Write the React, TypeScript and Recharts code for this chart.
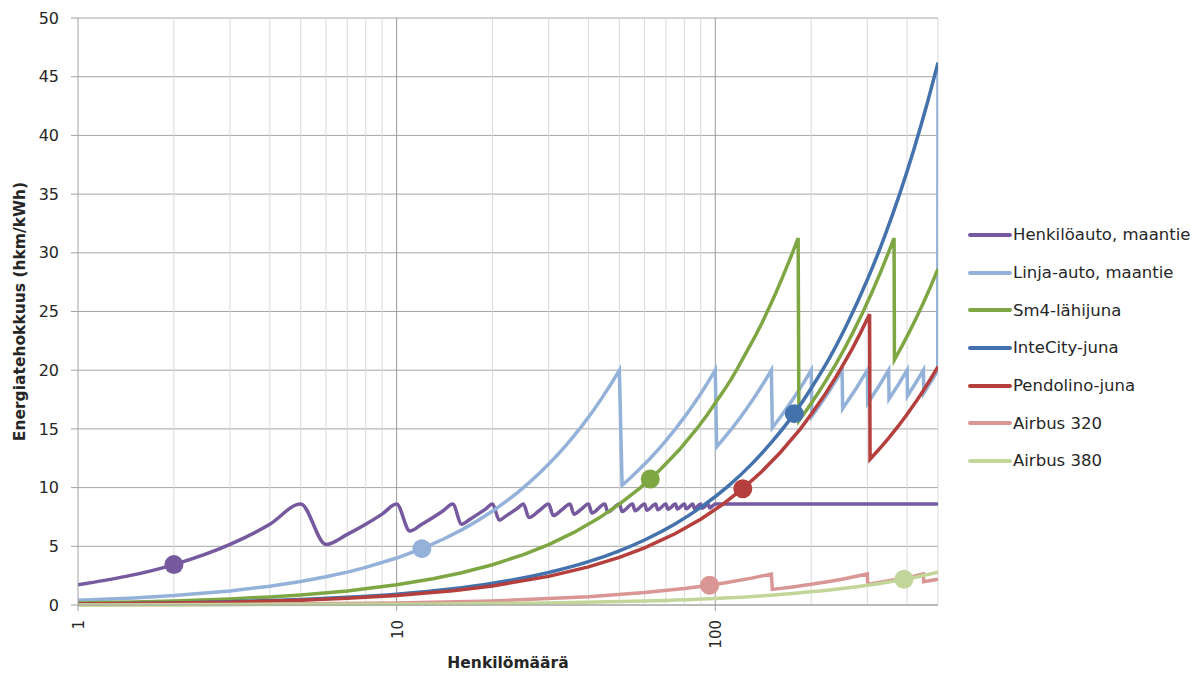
import React from "react";
import {
  ComposedChart,
  Line,
  Scatter,
  XAxis,
  YAxis,
  CartesianGrid,
  ReferenceLine,
  Legend,
  Label,
} from "recharts";

// ---------- tick labels / grid values ----------
const xTicks = [1, 10, 100];
const yTicks = [0, 5, 10, 15, 20, 25, 30, 35, 40, 45, 50];
const minorGridX = [2, 3, 4, 5, 6, 7, 8, 9, 20, 30, 40, 50, 60, 70, 80, 90, 200, 300, 400, 500];
const majorGridX = [10, 100];

// ---------- series values: [henkilömäärä, hkm/kWh] ----------
const henkiloauto = [
  [1, 1.72], [2, 3.44], [3, 5.16], [4, 6.88], [5, 8.6], [6, 5.16], [7, 6.02], [8, 6.88], [9, 7.74], [10, 8.6],
  [11, 6.31], [12, 6.88], [13, 7.45], [14, 8.03], [15, 8.6], [16, 6.88], [17, 7.31], [18, 7.74], [19, 8.17], [20, 8.6],
  [21, 7.22], [22, 7.57], [23, 7.91], [24, 8.26], [25, 8.6], [26, 7.45], [28, 8.03], [30, 8.6], [31, 7.62], [33, 8.11],
  [35, 8.6], [36, 7.74], [38, 8.17], [40, 8.6], [41, 7.84], [45, 8.6], [46, 7.91], [50, 8.6], [51, 7.97], [55, 8.6],
  [56, 8.03], [60, 8.6], [61, 8.07], [65, 8.6], [66, 8.11], [70, 8.6], [71, 8.14], [75, 8.6], [76, 8.17], [80, 8.6],
  [81, 8.19], [85, 8.6], [86, 8.22], [90, 8.6], [91, 8.24], [95, 8.6], [96, 8.26], [100, 8.6], [200, 8.6], [500, 8.6],
];
const linjaAuto = [
  [1, 0.4], [1.5, 0.6], [2, 0.8], [3, 1.2], [4, 1.6], [5, 2.0], [6, 2.4], [7, 2.8], [8, 3.2], [10, 4.0], [12, 4.8],
  [14, 5.6], [16, 6.4], [18, 7.2], [20, 8.0], [22, 8.8], [24, 9.6], [26, 10.4], [28, 11.2], [30, 12.0], [32, 12.8],
  [34, 13.6], [36, 14.4], [38, 15.2], [40, 16.0], [42, 16.8], [44, 17.6], [47, 18.8], [50, 20.0],
  [51, 10.2], [54, 10.8], [58, 11.6], [62, 12.4], [66, 13.2], [70, 14.0], [75, 15.0], [80, 16.0], [85, 17.0],
  [90, 18.0], [95, 19.0], [100, 20.0],
  [101, 13.47], [107, 14.27], [113, 15.07], [119, 15.87], [125, 16.67], [131, 17.47], [137, 18.27], [143, 19.07], [150, 20.0],
  [151, 15.1], [158, 15.8], [166, 16.6], [175, 17.5], [183, 18.3], [191, 19.1], [200, 20.0],
  [201, 16.08], [213, 17.04], [225, 18.0], [237, 18.96], [250, 20.0],
  [251, 16.73], [275, 18.33], [300, 20.0],
  [301, 17.2], [325, 18.57], [350, 20.0],
  [351, 17.55], [375, 18.75], [400, 20.0],
  [401, 17.82], [425, 18.89], [450, 20.0],
  [451, 18.04], [475, 19.0], [499, 19.96], [500, 46.0],
];
const sm4 = [
  [1, 0.17], [1.5, 0.26], [2, 0.34], [3, 0.52], [4, 0.69], [5, 0.86], [7, 1.2], [10, 1.72], [13, 2.23], [16, 2.75],
  [20, 3.43], [25, 4.29], [30, 5.15], [36, 6.18], [43, 7.38], [50, 8.59], [58, 9.96], [67, 11.5], [77, 13.2], [88, 15.1],
  [94, 16.14], [100, 17.2], [106, 18.2], [112, 19.2], [118, 20.26], [125, 21.5], [132, 22.66], [140, 24.0], [147, 25.24],
  [155, 26.6], [162, 27.82], [170, 29.2], [176, 30.22], [182, 31.25],
  [183, 15.71], [195, 16.74], [210, 18.03], [225, 19.32], [240, 20.6], [255, 21.89], [270, 23.18], [290, 24.9],
  [310, 26.61], [330, 28.33], [348, 29.88], [364, 31.25],
  [365, 20.89], [385, 22.03], [405, 23.18], [425, 24.32], [450, 25.75], [475, 27.18], [500, 28.62],
];
const interCity = [
  [1, 0.09], [2, 0.18], [3, 0.28], [5, 0.46], [7, 0.65], [10, 0.92], [15, 1.38], [20, 1.85], [30, 2.77], [40, 3.69],
  [50, 4.62], [60, 5.54], [75, 6.92], [90, 8.31], [110, 10.15], [130, 12.0], [150, 13.85], [177, 16.3], [200, 18.46],
  [230, 21.2], [260, 24.0], [300, 27.7], [340, 31.4], [380, 35.1], [420, 38.8], [460, 42.5], [500, 46.2],
];
const pendolino = [
  [1, 0.08], [2, 0.16], [3, 0.24], [5, 0.41], [7, 0.57], [10, 0.81], [15, 1.22], [20, 1.62], [30, 2.44], [40, 3.25],
  [50, 4.06], [60, 4.87], [75, 6.09], [90, 7.31], [105, 8.53], [122, 9.91], [140, 11.37], [160, 12.99], [185, 15.0],
  [200, 16.24], [220, 17.86], [240, 19.5], [255, 20.71], [270, 21.9], [285, 23.14], [305, 24.77],
  [306, 12.42], [325, 13.2], [350, 14.21], [375, 15.23], [400, 16.24], [425, 17.26], [450, 18.27], [475, 19.29], [500, 20.3],
];
const airbus320 = [
  [1, 0.02], [3, 0.05], [10, 0.18], [20, 0.35], [40, 0.7], [60, 1.06], [80, 1.41], [96, 1.69], [110, 1.94], [130, 2.29], [150, 2.64],
  [151, 1.33], [175, 1.54], [200, 1.76], [225, 1.98], [250, 2.2], [275, 2.42], [300, 2.64],
  [301, 1.77], [340, 2.0], [380, 2.23], [420, 2.46], [450, 2.64],
  [451, 1.98], [475, 2.09], [500, 2.2],
];
const airbus380 = [
  [1, 0.01], [10, 0.06], [30, 0.17], [60, 0.34], [100, 0.56], [150, 0.84], [200, 1.12], [250, 1.4], [300, 1.68],
  [350, 1.96], [391, 2.19], [450, 2.52], [500, 2.8],
];

// highlighted points (one per series)
const highlightX = [2, 12, 62.5, 177, 122, 96, 391];
const highlightY = [3.44, 4.8, 10.73, 16.3, 9.9, 1.69, 2.19];

const seriesNames = [
  "Henkilöauto, maantie",
  "Linja-auto, maantie",
  "Sm4-lähijuna",
  "InteCity-juna",
  "Pendolino-juna",
  "Airbus 320",
  "Airbus 380",
];
const seriesColors = ["#76599E", "#94B2D9", "#7EA744", "#4472AC", "#B43F3C", "#D99694", "#C2D699"];
const seriesValues = [henkiloauto, linjaAuto, sm4, interCity, pendolino, airbus320, airbus380];
const seriesCurve = ["monotone", "linear", "linear", "monotone", "linear", "linear", "monotone"];

const toRows = (arr) => arr.map(([x, y]) => ({ x, y }));

const FONT = "'DejaVu Sans', sans-serif";
const TEXT = "#262626";
const AXIS = "#a0a0a0";

const XTick = (props) => {
  const { x, y, payload } = props;
  const bx = x + 6;
  const by = y + 7;
  return (
    <text
      x={bx}
      y={by}
      transform={`rotate(-90, ${bx}, ${by})`}
      textAnchor="end"
      fontFamily={FONT}
      fontSize={15}
      fill={TEXT}
    >
      {payload.value}
    </text>
  );
};

const YTitle = (props) => {
  const vb = props.viewBox;
  const cx = vb.x + 20;
  const cy = vb.y + vb.height / 2;
  return (
    <text
      x={cx}
      y={cy}
      transform={`rotate(-90, ${cx}, ${cy})`}
      textAnchor="middle"
      dominantBaseline="central"
      fontFamily={FONT}
      fontWeight="bold"
      fontSize={15.5}
      fill={TEXT}
    >
      Energiatehokkuus (hkm/kWh)
    </text>
  );
};

const XTitle = (props) => {
  const vb = props.viewBox;
  return (
    <text
      x={vb.x + vb.width / 2}
      y={vb.y + 58}
      textAnchor="middle"
      dominantBaseline="central"
      fontFamily={FONT}
      fontWeight="bold"
      fontSize={15.5}
      fill={TEXT}
    >
      Henkilömäärä
    </text>
  );
};

const renderLegend = () => (
  <div style={{ fontFamily: FONT, fontSize: 16.5, color: TEXT }}>
    {seriesNames.map((name, i) => (
      <div key={name} style={{ display: "flex", alignItems: "center", height: 37.7 }}>
        <div style={{ width: 44, height: 4, background: seriesColors[i], borderRadius: 2 }} />
        <span style={{ marginLeft: 1, whiteSpace: "nowrap" }}>{name}</span>
      </div>
    ))}
  </div>
);

export default function App() {
  return (
    <div style={{ position: "absolute", left: 0, top: 0, background: "#fff" }}>
      <ComposedChart width={1202} height={673} margin={{ top: 18, right: 264, bottom: 0, left: 0 }}>
        <CartesianGrid vertical={false} stroke="#a6a6a6" />
        {minorGridX.map((v) => (
          <ReferenceLine key={"mi" + v} x={v} stroke="#d9d9d9" strokeWidth={1} />
        ))}
        {majorGridX.map((v) => (
          <ReferenceLine key={"ma" + v} x={v} stroke="#9a9a9a" strokeWidth={1} />
        ))}
        <XAxis
          dataKey="x"
          type="number"
          scale="log"
          domain={[1, 500]}
          ticks={xTicks}
          allowDataOverflow
          height={68}
          stroke={AXIS}
          tickSize={6}
          tick={<XTick />}
        >
          <Label content={<XTitle />} />
        </XAxis>
        <YAxis
          type="number"
          domain={[0, 50]}
          ticks={yTicks}
          width={78}
          stroke={AXIS}
          tickSize={7}
          tickMargin={12}
          tick={{ fontFamily: FONT, fontSize: 16, fill: TEXT }}
        >
          <Label content={<YTitle />} />
        </YAxis>
        {seriesValues.map((vals, i) => (
          <Line
            key={seriesNames[i]}
            data={toRows(vals)}
            dataKey="y"
            name={seriesNames[i]}
            type={seriesCurve[i]}
            stroke={seriesColors[i]}
            strokeWidth={3.5}
            dot={false}
            activeDot={false}
            isAnimationActive={false}
          />
        ))}
        {highlightX.map((hx, i) => (
          <Scatter
            key={"hl" + i}
            data={[{ x: hx, y: highlightY[i] }]}
            dataKey="y"
            legendType="none"
            isAnimationActive={false}
            shape={(p) => <circle cx={p.cx} cy={p.cy} r={9.5} fill={seriesColors[i]} />}
          />
        ))}
        <Legend
          layout="vertical"
          align="center"
          verticalAlign="middle"
          content={renderLegend}
          wrapperStyle={{ left: 968, top: 216, width: 234 }}
        />
      </ComposedChart>
    </div>
  );
}
